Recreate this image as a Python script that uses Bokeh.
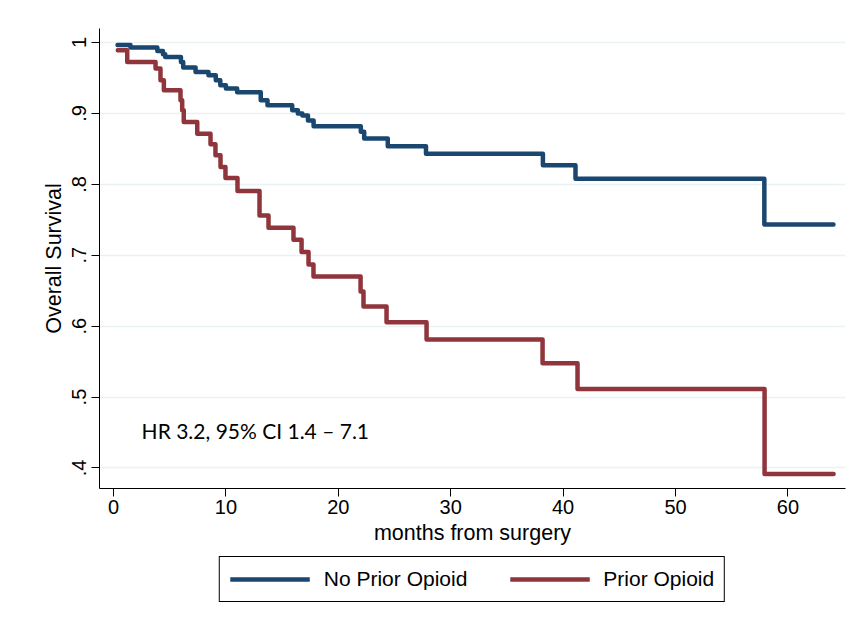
from bokeh.plotting import figure
from bokeh.models import Range1d, Legend, LegendItem, FixedTicker, Label
from bokeh.layouts import column
from bokeh.embed import file_html
from bokeh.resources import INLINE

# Kaplan-Meier step data (months, survival)
no_opioid_t = [0.36, 1.51, 3.9, 4.4, 4.6, 6.0, 6.2, 7.3, 8.45, 9.1, 9.5, 10.0, 11.0,
               13.1, 13.7, 15.9, 16.4, 16.8, 17.3, 17.8, 22.0, 22.3, 24.4, 27.8,
               38.2, 41.1, 57.9, 64.05]
no_opioid_s = [0.9966, 0.9929, 0.988, 0.9835, 0.9797, 0.9726, 0.9647, 0.9585, 0.9538,
               0.9468, 0.9397, 0.935, 0.930, 0.9185, 0.9115, 0.9044, 0.8998, 0.897,
               0.890, 0.882, 0.874, 0.8645, 0.8536, 0.8433, 0.8268, 0.808, 0.7435,
               0.7435]

prior_opioid_t = [0.38, 1.22, 3.74, 4.18, 4.48, 5.96, 6.11, 6.25, 7.45, 8.63, 9.07,
                  9.52, 9.96, 11.03, 12.99, 13.79, 16.01, 16.73, 17.35, 17.79, 21.98,
                  22.24, 24.29, 27.85, 38.17, 41.28, 57.92, 64.06]
prior_opioid_s = [0.989, 0.9726, 0.9633, 0.9468, 0.9327, 0.9185, 0.9044, 0.8879,
                  0.8715, 0.8564, 0.8409, 0.8244, 0.8091, 0.7905, 0.7562, 0.7388,
                  0.7219, 0.7044, 0.6870, 0.6701, 0.6489, 0.6277, 0.6055, 0.5811,
                  0.5477, 0.5115, 0.3915, 0.3915]

x_ticks = [0, 10, 20, 30, 40, 50, 60]
y_ticks = [0.4, 0.5, 0.6, 0.7, 0.8, 0.9, 1]
y_tick_labels = {0.4: ".4", 0.5: ".5", 0.6: ".6", 0.7: ".7", 0.8: ".8", 0.9: ".9", 1: "1"}

series_names = ["No Prior Opioid", "Prior Opioid"]
annotation = "HR 3.2, 95% CI 1.4 \u2013 7.1"

BLUE = "#1a476f"
RED = "#90353b"
FONT = "Liberation Sans"
LINE_W = 4.5

# ---- main plot ----
p = figure(frame_width=746, frame_height=460, output_backend="svg", toolbar_location=None,
           x_range=Range1d(-1.246, 65.12), y_range=Range1d(0.371, 1.0198),
           min_border_left=99, min_border_right=13, min_border_top=28,
           min_border_bottom=66)
p.outline_line_color = None
p.background_fill_color = "white"
p.border_fill_color = "white"

p.step(no_opioid_t, no_opioid_s, mode="after", line_color=BLUE, line_width=LINE_W,
       line_join="round", line_cap="round")
p.step(prior_opioid_t, prior_opioid_s, mode="after", line_color=RED, line_width=LINE_W,
       line_join="round", line_cap="round")

p.xaxis.ticker = FixedTicker(ticks=x_ticks)
p.yaxis.ticker = FixedTicker(ticks=y_ticks)
p.yaxis.major_label_overrides = y_tick_labels
p.yaxis.major_label_orientation = "vertical"
for ax in (p.xaxis, p.yaxis):
    ax.minor_tick_line_color = None
    ax.major_tick_in = 0
    ax.major_tick_out = 8
    ax.axis_line_color = "black"
    ax.major_tick_line_color = "black"
    ax.major_label_text_font = FONT
    ax.major_label_text_font_size = "20px"
    ax.major_label_text_color = "black"
    ax.axis_label_text_font = FONT
    ax.axis_label_text_font_size = "21.5px"
    ax.axis_label_text_font_style = "normal"
    ax.axis_label_text_color = "black"
p.xaxis.major_label_standoff = 3
p.xaxis.axis_label_standoff = 4
p.yaxis.major_label_standoff = 5
p.yaxis.axis_label_standoff = 4
p.xaxis.axis_label = "months from surgery"
p.yaxis.axis_label = "Overall Survival"

p.xgrid.grid_line_color = None
p.ygrid.grid_line_color = "#eaf2f3"
p.ygrid.grid_line_width = 1.5

p.add_layout(Label(x=2.5, y=0.4526, text=annotation, text_font="Lato",
                   text_font_size="21px", text_baseline="middle", text_color="black"))

# ---- legend strip (same series, legend only; data lies outside its view) ----
lg = figure(frame_width=746, frame_height=56, output_backend="svg", toolbar_location=None,
            x_range=Range1d(1000, 1001), y_range=Range1d(0, 1),
            x_axis_location=None, y_axis_location=None,
            min_border_left=99, min_border_right=13, min_border_top=0,
            min_border_bottom=0)
lg.outline_line_color = None
lg.xgrid.grid_line_color = None
lg.ygrid.grid_line_color = None
lr1 = lg.step(no_opioid_t, no_opioid_s, mode="after", line_color=BLUE, line_width=LINE_W)
lr2 = lg.step(prior_opioid_t, prior_opioid_s, mode="after", line_color=RED, line_width=LINE_W)

legend = Legend(items=[LegendItem(label=series_names[0], renderers=[lr1]),
                       LegendItem(label=series_names[1], renderers=[lr2])],
                orientation="horizontal", location="top_center",
                glyph_width=80, glyph_height=24, label_standoff=14, spacing=42,
                padding=10, margin=2, border_line_color="black", border_line_width=1,
                border_line_alpha=1.0,
                label_text_font=FONT, label_text_font_size="21px",
                label_text_color="black", background_fill_alpha=1.0)
lg.add_layout(legend, "center")

open("out.html", "w").write(file_html(column(p, lg, spacing=0), INLINE))
